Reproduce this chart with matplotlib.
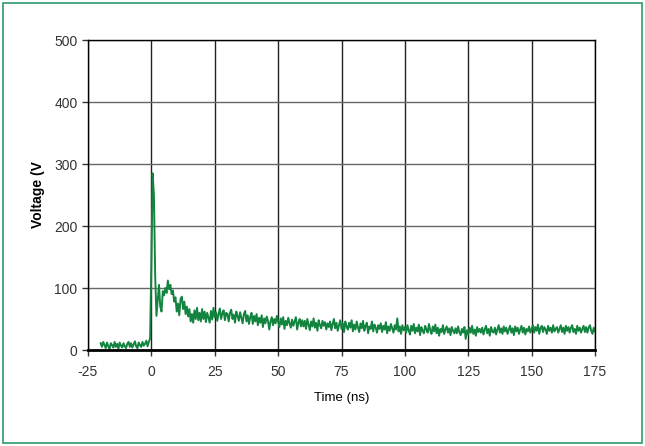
import numpy as np
import matplotlib
matplotlib.use('Agg')
import matplotlib.pyplot as plt
from matplotlib.patches import Rectangle

# Data (0.5 ns steps)
T_START = -20.0
T_STEP = 0.5

baseline = [
    11, 5, 13, 8, 3, 12, 6, 2, 11, 8, 4, 13, 5, 10, 2, 12, 7, 4, 11, 6,
    3, 10, 13, 5, 11, 4, 9, 14, 6, 3, 12, 8, 5, 13, 7, 10, 15, 6, 13, 19,
]

pulse = [
    140, 285, 250, 120, 55, 80, 105, 70, 62, 95, 88, 100, 92, 112, 98, 105, 90, 96, 78, 85,
    62, 75, 56, 82, 86, 66, 78, 58, 70, 54, 66, 46, 58, 44, 64, 50, 68, 48, 60, 46,
    66, 50, 62, 45, 60, 52, 44, 63, 49, 68, 53, 61, 47, 58, 67, 50, 59, 64, 48, 60,
    58, 46, 60, 65, 50, 57, 44, 62, 55, 47, 61, 52, 43, 58, 63, 46, 56, 42, 53, 60,
    42, 55, 46, 58, 40, 52, 44, 56, 37, 51, 43, 54, 47, 33, 46, 53, 40, 50, 43, 55,
]

tail = [
    46, 37, 51, 41, 53, 34, 47, 40, 52, 43, 36, 49, 39, 46, 53, 33, 44, 50, 38, 48,
    38, 47, 34, 50, 41, 32, 46, 38, 51, 36, 44, 31, 48, 40, 35, 47, 39, 45, 33, 43,
    37, 46, 32, 42, 50, 35, 44, 31, 40, 48, 34, 43, 29, 46, 38, 33, 44, 36, 48, 30,
    41, 33, 46, 36, 29, 43, 35, 47, 31, 39, 44, 27, 38, 34, 46, 30, 41, 36, 28, 40,
    34, 43, 29, 39, 33, 45, 27, 38, 31, 42, 35, 28, 40, 33, 51, 30, 38, 26, 40, 32,
    37, 28, 40, 32, 25, 39, 31, 42, 27, 36, 30, 41, 24, 37, 31, 27, 39, 33, 28, 42,
    32, 26, 38, 30, 41, 27, 36, 23, 34, 29, 40, 26, 33, 38, 28, 35, 24, 37, 31, 27,
    35, 27, 38, 29, 24, 34, 28, 37, 18, 32, 25, 36, 28, 39, 26, 33, 23, 37, 29, 34,
    28, 36, 25, 33, 39, 27, 34, 23, 37, 30, 28, 36, 25, 33, 40, 28, 35, 26, 38, 30,
    36, 26, 33, 39, 28, 35, 24, 38, 30, 36, 26, 33, 39, 28, 36, 25, 34, 30, 38, 28,
    34, 40, 28, 37, 31, 41, 26, 35, 39, 29, 37, 33, 26, 39, 31, 36, 28, 40, 30, 34,
    37, 28, 34, 40, 29, 36, 26, 39, 31, 37, 28, 36, 40, 29, 34, 26, 39, 31, 36, 28,
    34, 39, 29, 37, 28, 36, 40, 31, 26, 36, 30,
]

voltage = np.array(baseline + pulse + tail, dtype=float)
time_ns = T_START + T_STEP * np.arange(len(voltage))

x_ticks = [-25, 0, 25, 50, 75, 100, 125, 150, 175]
y_ticks = [0, 100, 200, 300, 400, 500]

plt.rcParams['font.family'] = ['Liberation Sans', 'DejaVu Sans']
plt.rcParams['axes.unicode_minus'] = False

fig = plt.figure(figsize=(6.45, 4.46), dpi=100)
ax = fig.add_axes([88 / 645, 96 / 446, 507 / 645, 310 / 446])

# green frame around the whole figure
fig.patches.append(Rectangle((3 / 645, 3 / 446), 639 / 645, 440 / 446,
                             transform=fig.transFigure, fill=False,
                             edgecolor='#2e9a6c', linewidth=1.2))

ax.plot(time_ns, voltage, color='#13843f', linewidth=1.4)

ax.set_xlim(-25, 175)
ax.set_ylim(0, 500)
ax.set_xticks(x_ticks)
ax.set_yticks(y_ticks)
ax.xaxis.grid(True, color='#222222', linewidth=1.0)
ax.yaxis.grid(True, color='#666666', linewidth=1.0)
ax.set_axisbelow(True)

for side in ['top', 'right', 'left']:
    ax.spines[side].set_linewidth(1.0)
ax.spines['bottom'].set_linewidth(2.0)

ax.tick_params(direction='out', length=4, width=1, labelsize=10, colors='#333333')
ax.tick_params(axis='x', pad=7)
ax.set_xlabel('Time (ns)', fontsize=9.5, labelpad=9)
ax.set_ylabel('Voltage (V', fontsize=10, fontweight='bold')
ax.yaxis.set_label_coords(-0.085, 0.5)

fig.savefig('out.png', dpi=100)
